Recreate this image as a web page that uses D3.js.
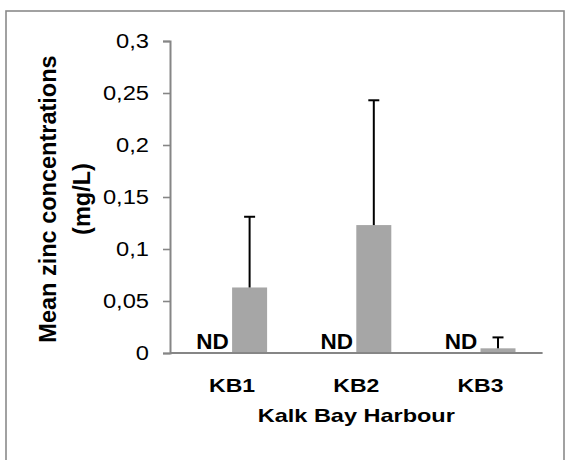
<!DOCTYPE html>
<html>
<head>
<meta charset="utf-8">
<script src="https://cdn.jsdelivr.net/npm/d3@7"></script>
<style>
  html, body { margin: 0; padding: 0; background: #fff; }
  svg { display: block; }
  text { font-family: "Liberation Sans", Arial, sans-serif; fill: #000; }
</style>
</head>
<body>
<svg id="chart" width="569" height="460"></svg>
<script>
// Sampling sites
const sites = ["KB1", "KB2", "KB3"];
// Two series per site: the first was not detected (ND), the second is measured zinc
const seriesNames = ["ND", "Zinc"];
const ndValues = [0, 0, 0];
const zincMeans = [0.063, 0.123, 0.0045];
const zincSD = [0.068, 0.12, 0.0105];
// Y axis ticks
const yTicks = [0, 0.05, 0.1, 0.15, 0.2, 0.25, 0.3];

const svg = d3.select("#chart");
const W = 569, H = 460;
const margin = { left: 170, right: 26.4, top: 41, bottom: 107 };
const plotW = W - margin.left - margin.right;
const plotH = H - margin.top - margin.bottom;

// Outer frame
svg.append("rect")
  .attr("x", 6).attr("y", 11)
  .attr("width", 558).attr("height", 470)
  .attr("fill", "none").attr("stroke", "#8a8a8a").attr("stroke-width", 1.6);

const g = svg.append("g").attr("transform", `translate(${margin.left},${margin.top})`);

const x0 = d3.scaleBand().domain(sites).range([0, plotW]).paddingInner(0).paddingOuter(0);
const x1 = d3.scaleBand().domain(seriesNames).range([0, x0.bandwidth()]).paddingInner(0).paddingOuter(0.774);
const y = d3.scaleLinear().domain([0, 0.3]).range([plotH, 0]);

const locale = d3.formatLocale({ decimal: ",", thousands: ".", grouping: [3], currency: ["", ""] });
const fmt = locale.format(".2~f");

// Y axis
const yAxis = g.append("g")
  .call(d3.axisLeft(y).tickValues(yTicks).tickFormat(fmt).tickSize(7).tickPadding(14));
yAxis.select(".domain").attr("stroke", "#868686").attr("stroke-width", 2);
yAxis.selectAll(".tick line").attr("stroke", "#868686").attr("stroke-width", 1.6);
yAxis.selectAll(".tick text")
  .attr("font-family", "Liberation Sans, Arial, sans-serif")
  .attr("font-size", 23.7)
  .attr("fill", "#000")
  .attr("transform", "scale(1,0.84)");

// Bars
const rows = sites.map((s, i) => ({ site: s, nd: ndValues[i], mean: zincMeans[i], sd: zincSD[i] }));

const groups = g.selectAll(".site").data(rows).join("g")
  .attr("class", "site")
  .attr("transform", d => `translate(${x0(d.site)},0)`);

groups.append("rect")
  .attr("x", x1("Zinc"))
  .attr("width", x1.bandwidth())
  .attr("y", d => y(d.mean))
  .attr("height", d => y(0) - y(d.mean))
  .attr("fill", "#a6a6a6");

// Upper error bars
const cap = 5.5;
groups.append("line")
  .attr("x1", x1("Zinc") + x1.bandwidth() / 2)
  .attr("x2", x1("Zinc") + x1.bandwidth() / 2)
  .attr("y1", d => y(d.mean))
  .attr("y2", d => y(d.mean + d.sd))
  .attr("stroke", "#000").attr("stroke-width", 2);
groups.append("line")
  .attr("x1", x1("Zinc") + x1.bandwidth() / 2 - cap)
  .attr("x2", x1("Zinc") + x1.bandwidth() / 2 + cap)
  .attr("y1", d => y(d.mean + d.sd))
  .attr("y2", d => y(d.mean + d.sd))
  .attr("stroke", "#000").attr("stroke-width", 2);

// ND markers for the undetected series
groups.append("text")
  .attr("x", x1("ND") + x1.bandwidth() / 2 - 2)
  .attr("y", d => y(d.nd) - 4)
  .attr("text-anchor", "middle")
  .attr("font-weight", "bold")
  .attr("font-size", 22.5)
  .text("ND");

// X axis line
g.append("line")
  .attr("x1", 0).attr("x2", plotW)
  .attr("y1", y(0)).attr("y2", y(0))
  .attr("stroke", "#868686").attr("stroke-width", 2);

// Category labels
g.selectAll(".cat").data(sites).join("text")
  .attr("class", "cat")
  .attr("transform", d => `translate(${x0(d) + x0.bandwidth() / 2},${y(0) + 38.7}) scale(1,0.8)`)
  .attr("text-anchor", "middle")
  .attr("font-weight", "bold")
  .attr("font-size", 23)
  .text(d => d);

// X axis title
svg.append("text")
  .attr("transform", `translate(${margin.left + plotW / 2},421.7) scale(1,0.8)`)
  .attr("text-anchor", "middle")
  .attr("font-weight", "bold")
  .attr("font-size", 23.5)
  .text("Kalk Bay Harbour");

// Y axis title (two lines)
const yTitle = ["Mean zinc concentrations", "(mg/L)"];
svg.selectAll(".ytitle").data(yTitle).join("text")
  .attr("class", "ytitle")
  .attr("transform", (d, i) => `translate(${56 + i * 34},199) rotate(-90)`)
  .attr("text-anchor", "middle")
  .attr("font-weight", "bold")
  .attr("font-size", 23.5)
  .text(d => d);
</script>
</body>
</html>
